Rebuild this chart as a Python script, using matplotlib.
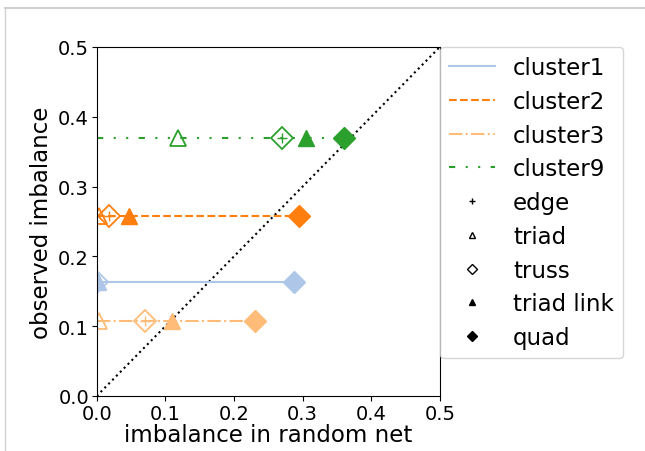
import matplotlib
matplotlib.use("Agg")
import matplotlib.pyplot as plt
from matplotlib.lines import Line2D

clusters = ["cluster1", "cluster2", "cluster3", "cluster9"]
observed = [0.163, 0.258, 0.107, 0.369]
edge = [0.0, 0.018, 0.07, 0.27]
triad = [0.002, 0.003, 0.004, 0.118]
truss = [0.0, 0.018, 0.07, 0.27]
triad_link = [0.002, 0.047, 0.11, 0.305]
quad = [0.288, 0.294, 0.23, 0.36]

colors = ["#aec7e8", "#ff7f0e", "#ffbb78", "#2ca02c"]
styles = ["-", "--", "-.", (0, (3, 5, 1, 5, 1, 5))]

fig = plt.figure(figsize=(6.45, 4.52), dpi=100)
ax = fig.add_axes([0.150, 0.1217, 0.532, 0.7723])

ax.plot([0, 0.5], [0, 0.5], color="black", linestyle=":", linewidth=1.5)

for i, name in enumerate(clusters):
    c = colors[i]
    y = observed[i]
    ax.plot([0, quad[i]], [y, y], color=c, linestyle=styles[i], linewidth=1.5, label=name)
    ax.plot([edge[i]], [y], marker="+", color=c, markersize=7, linestyle="none")
    ax.plot([triad[i]], [y], marker="^", markerfacecolor="none", markeredgecolor=c,
            markersize=11, markeredgewidth=1.3, linestyle="none")
    ax.plot([truss[i]], [y], marker="D", markerfacecolor="none", markeredgecolor=c,
            markersize=11, markeredgewidth=1.3, linestyle="none")
    ax.plot([triad_link[i]], [y], marker="^", color=c, markersize=11, linestyle="none")
    ax.plot([quad[i]], [y], marker="D", color=c, markersize=11, linestyle="none")

ax.set_xlim(0, 0.5)
ax.set_ylim(0, 0.5)
ticks = [0.0, 0.1, 0.2, 0.3, 0.4, 0.5]
ax.set_xticks(ticks)
ax.set_yticks(ticks)
ax.tick_params(labelsize=14, pad=2)
ax.set_xlabel("imbalance in random net", fontsize=16.5, labelpad=0)
ax.set_ylabel("observed imbalance", fontsize=16.5, labelpad=4)

handles, labels = ax.get_legend_handles_labels()
marker_names = ["edge", "triad", "truss", "triad link", "quad"]
marker_specs = [("+", "black"), ("^", "none"), ("D", "none"), ("^", "black"), ("D", "black")]
for nm, (m, fc) in zip(marker_names, marker_specs):
    handles.append(Line2D([], [], marker=m, color="black", markerfacecolor=fc,
                          markersize=5, linestyle="none"))
    labels.append(nm)
ax.legend(handles, labels, loc="upper left", bbox_to_anchor=(1.0, 1.0),
          borderaxespad=0.0, fontsize=16.5, labelspacing=0.47)

fig.add_artist(Line2D([5 / 645, 1.0], [1 - 9 / 452, 1 - 9 / 452], color="#d0d0d0", linewidth=1.5))
fig.add_artist(Line2D([5 / 645, 5 / 645], [0.0, 1 - 9 / 452], color="#d0d0d0", linewidth=1.0))

fig.savefig("out.png", dpi=100)
